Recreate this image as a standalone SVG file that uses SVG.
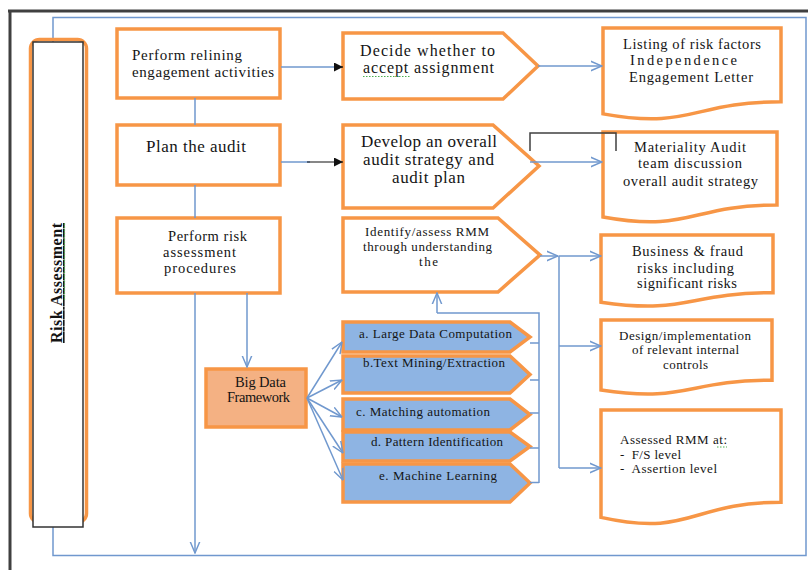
<svg xmlns="http://www.w3.org/2000/svg" width="808" height="570" viewBox="0 0 808 570">
<style>
text{font-family:"Liberation Serif","Times New Roman",serif;fill:#141414;}
.box{fill:#fff;stroke:#F79646;stroke-width:3.5;}
.chev{fill:#8EB4E3;stroke:#F79646;stroke-width:3.5;stroke-linejoin:miter;}
.bd{fill:#F4B183;stroke:#F79646;stroke-width:3.5;}
.ln{fill:none;stroke:#7098CE;stroke-width:1.5;}
.oa{marker-end:url(#oa);}
.frame{fill:none;stroke:#404040;stroke-width:3;}
.sq{fill:none;stroke:#4CAF50;stroke-width:1.2;stroke-dasharray:1.5 1.5;}
.s13{font-size:13px;}
.s14{font-size:14.5px;}
.s15{font-size:15px;}
.s16{font-size:16px;}
.s17{font-size:17px;}
</style>
<defs>
<marker id="oa" viewBox="0 0 10 10" refX="9.5" refY="5" markerWidth="12" markerHeight="12" orient="auto" markerUnits="userSpaceOnUse">
<path d="M0,1 L9.5,5 L0,9" fill="none" stroke="#7098CE" stroke-width="1.2"/>
</marker>
<marker id="ba" viewBox="0 0 10 10" refX="10" refY="5" markerWidth="9" markerHeight="9" orient="auto" markerUnits="userSpaceOnUse">
<path d="M0,0 L10,5 L0,10 Z" fill="#111"/>
</marker>
</defs>
<rect width="808" height="570" fill="#fff"/>

<g id="frame">
<path class="frame" d="M8,11 H808 M10,10 V570"/>
<path class="ln" d="M53,42 V17.5 H806 V555.5 H53 V527" stroke-width="1.8"/>
</g>

<g id="risk-assessment">
<rect x="30.5" y="39.5" width="56" height="483" rx="9" fill="none" stroke="#F79646" stroke-width="3.5"/>
<rect x="33" y="42" width="50" height="485" fill="#fff" stroke="#333" stroke-width="1.5"/>
<text transform="translate(62,283) rotate(-90)" text-anchor="middle" font-size="16" font-weight="bold" text-decoration="underline" textLength="120">Risk  Assessment</text>
<path class="sq" d="M64.5,300 V223"/>
</g>

<g id="n-relining">
<rect class="box" x="117" y="29" width="163" height="69"/>
<text class="s15" x="132" y="60" textLength="110">Perform  relining</text>
<text class="s15" x="132" y="77" textLength="142">engagement activities</text>
</g>

<g id="n-plan">
<rect class="box" x="117" y="125" width="163" height="60"/>
<text class="s17" x="146" y="152" textLength="100">Plan the audit</text>
</g>

<g id="n-riskproc">
<rect class="box" x="117" y="218" width="163" height="75"/>
<text class="s14" x="168" y="241" textLength="79">Perform risk</text>
<text class="s14" x="163" y="257" textLength="73">assessment</text>
<text class="s14" x="164" y="273" textLength="72">procedures</text>
</g>

<g id="n-bigdata">
<rect class="bd" x="206" y="369" width="100" height="58"/>
<text class="s14" x="235" y="387" textLength="51">Big Data</text>
<text class="s14" x="227" y="402" textLength="63">Framework</text>
</g>

<g id="n-decide">
<path class="box" d="M343,33 H503 L538,66 L503,99 H343 Z"/>
<text class="s16" x="360" y="56" textLength="135">Decide whether to</text>
<text class="s16" x="363" y="73" textLength="131">accept assignment</text>
<path class="sq" d="M363,76.5 H410"/>
</g>

<g id="n-develop">
<path class="box" d="M343,125 H493 L539,166 L493,208 H343 Z"/>
<text class="s17" x="361" y="147" textLength="136">Develop an overall</text>
<text class="s17" x="363" y="165" textLength="131">audit strategy and</text>
<text class="s17" x="392" y="183" textLength="73">audit plan</text>
</g>

<g id="n-identify">
<path class="box" d="M343,218 H498 L540,255 L498,292 H343 Z"/>
<text class="s13" x="365" y="236" textLength="124">Identify/assess RMM</text>
<text class="s13" x="363" y="251" textLength="129">through understanding</text>
<text class="s13" x="419" y="266" textLength="19">the</text>
</g>

<g id="n-chev-a">
<path class="chev" d="M343,322 H510 L530,337 L510,352 H343 Z"/>
<text class="s13" x="359" y="338" textLength="153">a. Large Data Computation</text>
</g>
<g id="n-chev-b">
<path class="chev" d="M343,356 H510 L530,374.5 L510,393 H343 Z"/>
<text class="s13" x="363" y="367" textLength="142">b.Text Mining/Extraction</text>
</g>
<g id="n-chev-c">
<path class="chev" d="M343,399 H510 L530,414.5 L510,430 H343 Z"/>
<text class="s13" x="356" y="416" textLength="134">c. Matching automation</text>
</g>
<g id="n-chev-d">
<path class="chev" d="M343,432 H510 L530,446.5 L510,461 H343 Z"/>
<text class="s13" x="371" y="446" textLength="132">d. Pattern Identification</text>
</g>
<g id="n-chev-e">
<path class="chev" d="M343,464 H510 L530,483 L510,502 H343 Z"/>
<text class="s13" x="379" y="480" textLength="118">e. Machine Learning</text>
</g>

<g id="n-listing">
<path class="box" d="M603,28 H781 V101.8 C692,101.8 692,129.9 603,113.9 Z"/>
<text class="s14" x="623" y="49" textLength="138">Listing of risk factors</text>
<text class="s14" x="630" y="65" textLength="107">Independence</text>
<text class="s14" x="629" y="82" textLength="124">Engagement Letter</text>
</g>

<g id="n-materiality">
<path class="box" d="M603,132 H777 V205 C690,205 690,232.8 603,217 Z"/>
<text class="s14" x="634" y="152" textLength="112">Materiality Audit</text>
<text class="s14" x="638" y="168" textLength="104">team discussion</text>
<text class="s14" x="623" y="186" textLength="135">overall audit strategy</text>
</g>

<g id="n-business">
<path class="box" d="M601,235 H773 V292.7 C687,292.7 687,314.8 601,302.2 Z"/>
<text class="s14" x="632" y="256" textLength="111">Business &amp; fraud</text>
<text class="s14" x="637" y="273" textLength="97">risks including</text>
<text class="s14" x="637" y="288" textLength="100">significant risks</text>
</g>

<g id="n-design">
<path class="box" d="M601,320 H772 V380.2 C686.5,380.2 686.5,403.1 601,390 Z"/>
<text class="s13" x="619" y="340" textLength="132">Design/implementation</text>
<text class="s13" x="632" y="354" textLength="107">of relevant internal</text>
<text class="s13" x="663" y="369" textLength="45">controls</text>
</g>

<g id="n-assessed">
<path class="box" d="M601,410 H781 V502.2 C691,502.2 691,537.4 601,517.4 Z"/>
<text class="s13" x="620" y="444" textLength="107">Assessed RMM at:</text>
<text class="s13" x="620" y="459" textLength="61" xml:space="preserve">-  F/S level</text>
<text class="s13" x="620" y="473" textLength="97" xml:space="preserve">-  Assertion level</text>
<path class="sq" d="M717,447 H727"/>
</g>

<g id="connectors">
<path class="ln" d="M195,98 V125 M195,185 V218"/>
<path class="ln oa" d="M195,293 V553"/>
<path class="ln oa" d="M247,293 V367"/>
<path class="ln" d="M281,67 H336"/>
<path d="M334,67 H343" stroke="#111" stroke-width="1.2" marker-end="url(#ba)"/>
<path class="ln" d="M281,162 H310"/>
<path d="M307,162 H343" stroke="#111" stroke-width="1.2" marker-end="url(#ba)"/>
<path class="ln oa" d="M538,66 H602"/>
<path class="ln oa" d="M530,162 H602"/>
<path d="M530,151 V133 H616 V151" fill="none" stroke="#404040" stroke-width="1.5"/>
<path class="ln oa" d="M307,398 L342,342"/>
<path class="ln oa" d="M307,398 L342,380"/>
<path class="ln oa" d="M307,398 L342,417"/>
<path class="ln oa" d="M307,398 L343,453"/>
<path class="ln oa" d="M307,398 L343,480"/>
<path class="ln" d="M530,343 H539 M530,380 H539 M530,413 H539 M530,448 H539 M530,482.5 H539 M539,483 V313 H437"/>
<path class="ln oa" d="M437,313 V293"/>
<path class="ln oa" d="M540,256 H558"/>
<path class="ln" d="M559,256 V468"/>
<path class="ln oa" d="M559,256 H601"/>
<path class="ln oa" d="M559,346 H601"/>
<path class="ln oa" d="M559,468 H601"/>
</g>
</svg>
